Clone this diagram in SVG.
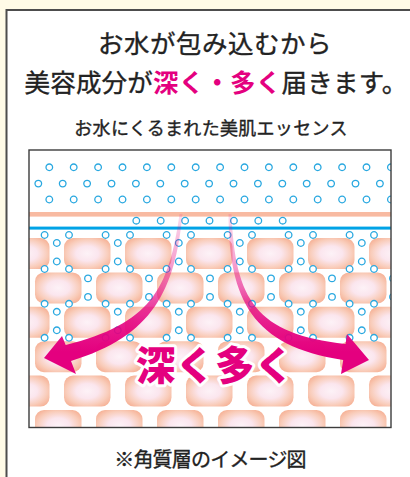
<svg xmlns="http://www.w3.org/2000/svg" xmlns:xlink="http://www.w3.org/1999/xlink" width="410" height="477" viewBox="0 0 410 477">
  <style>
    .ttl { font-family: "Noto Sans CJK JP", "Noto Sans", sans-serif; fill: #222; stroke: #222; stroke-width: 0.35; text-anchor: middle; font-weight: 400; }
    .hl { fill: #e4007f; stroke: none; font-weight: 700; }
    .cell { fill: url(#cellGrad); }
    .dot { fill: #fff; stroke: #29a8e0; stroke-width: 1.3; }
    .bigtxt { font-family: "Noto Sans CJK JP", sans-serif; font-weight: 900; fill: #e4007f; stroke: #fff; stroke-width: 6; stroke-linejoin: round; paint-order: stroke fill; text-anchor: middle; }
  </style>
  <defs>
    <radialGradient id="cellGrad" cx="0.5" cy="0.5" r="0.6">
      <stop offset="0" stop-color="#fdf2f7"/>
      <stop offset="0.4" stop-color="#fbe6ee"/>
      <stop offset="0.75" stop-color="#f9cdbb"/>
      <stop offset="1" stop-color="#f6b398"/>
    </radialGradient>
    <linearGradient id="arrowGrad" gradientUnits="userSpaceOnUse" x1="0" y1="212" x2="0" y2="352">
      <stop offset="0" stop-color="#e4007f" stop-opacity="0.12"/>
      <stop offset="0.4" stop-color="#e4007f" stop-opacity="0.4"/>
      <stop offset="0.78" stop-color="#e4007f" stop-opacity="0.88"/>
      <stop offset="1" stop-color="#e4007f" stop-opacity="1"/>
    </linearGradient>
    <clipPath id="boxClip">
      <rect x="29" y="150" width="362" height="277"/>
    </clipPath>
    <circle id="d" class="dot" r="3.3"/>
    <rect id="c" class="cell" width="46.5" height="31" rx="9"/>
    <!-- six bubbles around the gap between two neighbouring cells -->
    <g id="gapA">
      <use xlink:href="#d" x="-12.2" y="-3"/>
      <use xlink:href="#d" x="12.2" y="-3"/>
      <use xlink:href="#d" x="0" y="5"/>
      <use xlink:href="#d" x="0" y="23.5"/>
      <use xlink:href="#d" x="-12.2" y="31"/>
      <use xlink:href="#d" x="12.2" y="31"/>
    </g>
    <g id="gapB">
      <use xlink:href="#d" x="0" y="6"/>
      <use xlink:href="#d" x="0" y="24.5"/>
    </g>
    <!-- a row of surface bubbles, 24.4 apart -->
    <g id="rowA">
      <use xlink:href="#d" x="0"/><use xlink:href="#d" x="24.4"/><use xlink:href="#d" x="48.8"/>
      <use xlink:href="#d" x="73.2"/><use xlink:href="#d" x="97.6"/><use xlink:href="#d" x="122"/>
      <use xlink:href="#d" x="146.4"/><use xlink:href="#d" x="170.8"/><use xlink:href="#d" x="195.2"/>
      <use xlink:href="#d" x="219.6"/><use xlink:href="#d" x="244"/><use xlink:href="#d" x="268.4"/>
      <use xlink:href="#d" x="292.8"/><use xlink:href="#d" x="317.2"/><use xlink:href="#d" x="341.6"/>
    </g>
  </defs>

  <!-- page -->
  <rect x="0" y="0" width="410" height="477" fill="#fffbe7"/>
  <rect x="6.5" y="10" width="410" height="480" fill="#fff" stroke="#4d4d4d" stroke-width="2"/>

  <!-- headings -->
  <g id="heading">
    <text class="ttl" x="215" y="52.5" font-size="25.5" letter-spacing="0.5">お水が包み込むから</text>
    <text class="ttl" x="216" y="92" font-size="25.5" letter-spacing="0.2">美容成分が<tspan class="hl">深く・多く</tspan>届きます。</text>
    <text class="ttl" x="211" y="134.5" font-size="18" letter-spacing="0.3">お水にくるまれた美肌エッセンス</text>
  </g>

  <!-- skin cross-section -->
  <g id="skin" clip-path="url(#boxClip)">
    <rect x="29" y="150" width="362" height="277" fill="#fff"/>

    <g id="surface-bubbles">
      <use xlink:href="#rowA" x="49.3" y="167.3"/>
      <use xlink:href="#rowA" x="38.3" y="183.6"/>
      <use xlink:href="#rowA" x="49.3" y="199.5"/>
    </g>

    <g id="surface-lines">
      <rect x="29" y="212" width="362" height="4.6" fill="#f8baa1"/>
      <rect x="29" y="226.6" width="362" height="3" fill="#00a3e6"/>
    </g>

    <g id="inner-bubbles-top">
      <use xlink:href="#d" x="136.3" y="220.7"/>
      <use xlink:href="#d" x="160.7" y="220.7"/>
      <use xlink:href="#d" x="185.1" y="220.7"/>
      <use xlink:href="#d" x="209.5" y="220.7"/>
      <use xlink:href="#d" x="233.9" y="220.7"/>
      <use xlink:href="#d" x="258.3" y="220.7"/>
      <use xlink:href="#d" x="282.7" y="220.7"/>
    </g>

    <g id="cells">
      <!-- row 1 -->
      <use xlink:href="#c" x="3" y="238"/><use xlink:href="#c" x="64" y="238"/><use xlink:href="#c" x="125" y="238"/>
      <use xlink:href="#c" x="186" y="238"/><use xlink:href="#c" x="247" y="238"/><use xlink:href="#c" x="308" y="238"/>
      <use xlink:href="#c" x="369" y="238"/>
      <!-- row 2 -->
      <use xlink:href="#c" x="-26" y="272.4"/><use xlink:href="#c" x="35" y="272.4"/><use xlink:href="#c" x="96" y="272.4"/>
      <use xlink:href="#c" x="157" y="272.4"/><use xlink:href="#c" x="218" y="272.4"/><use xlink:href="#c" x="279" y="272.4"/>
      <use xlink:href="#c" x="340" y="272.4"/><use xlink:href="#c" x="401" y="272.4"/>
      <!-- row 3 -->
      <use xlink:href="#c" x="3" y="306.8"/><use xlink:href="#c" x="64" y="306.8"/><use xlink:href="#c" x="125" y="306.8"/>
      <use xlink:href="#c" x="186" y="306.8"/><use xlink:href="#c" x="247" y="306.8"/><use xlink:href="#c" x="308" y="306.8"/>
      <use xlink:href="#c" x="369" y="306.8"/>
      <!-- row 4 -->
      <use xlink:href="#c" x="-26" y="341.2"/><use xlink:href="#c" x="35" y="341.2"/><use xlink:href="#c" x="96" y="341.2"/>
      <use xlink:href="#c" x="157" y="341.2"/><use xlink:href="#c" x="218" y="341.2"/><use xlink:href="#c" x="279" y="341.2"/>
      <use xlink:href="#c" x="340" y="341.2"/><use xlink:href="#c" x="401" y="341.2"/>
      <!-- row 5 -->
      <use xlink:href="#c" x="3" y="375.6"/><use xlink:href="#c" x="64" y="375.6"/><use xlink:href="#c" x="125" y="375.6"/>
      <use xlink:href="#c" x="186" y="375.6"/><use xlink:href="#c" x="247" y="375.6"/><use xlink:href="#c" x="308" y="375.6"/>
      <use xlink:href="#c" x="369" y="375.6"/>
      <!-- row 6 -->
      <use xlink:href="#c" x="-26" y="410"/><use xlink:href="#c" x="35" y="410"/><use xlink:href="#c" x="96" y="410"/>
      <use xlink:href="#c" x="157" y="410"/><use xlink:href="#c" x="218" y="410"/><use xlink:href="#c" x="279" y="410"/>
      <use xlink:href="#c" x="340" y="410"/><use xlink:href="#c" x="401" y="410"/>
    </g>

    <g id="gap-bubbles">
      <use xlink:href="#gapA" x="56.8" y="238"/><use xlink:href="#gapA" x="117.8" y="238"/><use xlink:href="#gapA" x="178.8" y="238"/>
      <use xlink:href="#gapA" x="239.8" y="238"/><use xlink:href="#gapA" x="300.8" y="238"/><use xlink:href="#gapA" x="361.8" y="238"/>
      <use xlink:href="#gapB" x="88" y="272.4"/><use xlink:href="#gapB" x="149" y="272.4"/><use xlink:href="#gapB" x="210" y="272.4"/>
      <use xlink:href="#gapB" x="271" y="272.4"/><use xlink:href="#gapB" x="332" y="272.4"/><use xlink:href="#gapB" x="393" y="272.4"/>
      <use xlink:href="#gapA" x="56.8" y="306.8"/><use xlink:href="#gapA" x="117.8" y="306.8"/><use xlink:href="#gapA" x="178.8" y="306.8"/>
      <use xlink:href="#gapA" x="239.8" y="306.8"/><use xlink:href="#gapA" x="300.8" y="306.8"/><use xlink:href="#gapA" x="361.8" y="306.8"/>
    </g>

    <!-- penetration arrows -->
    <g id="arrows">
      <path fill="url(#arrowGrad)" d="M179.5 214 C169 290 150 324 65.7 345 L62 336 L44 358 L76 374 L71 361 C153 336 175 290 182.5 214 Z"/>
      <path fill="url(#arrowGrad)" d="M231.5 214 C235 300 256 334 345.5 344 L347 334 L369 360 L341 374 L343.2 360 C252 346 229 300 228.5 214 Z"/>
    </g>

    <g id="depth-label">
      <text class="bigtxt" x="215" y="380" font-size="39.5">深く多く</text>
    </g>
  </g>
  <rect x="29" y="150" width="362" height="277.5" fill="none" stroke="#3c3c3c" stroke-width="1.4"/>

  <g id="caption">
    <text class="ttl" x="210" y="467" font-size="20" letter-spacing="-0.8">※角質層のイメージ図</text>
  </g>
</svg>
